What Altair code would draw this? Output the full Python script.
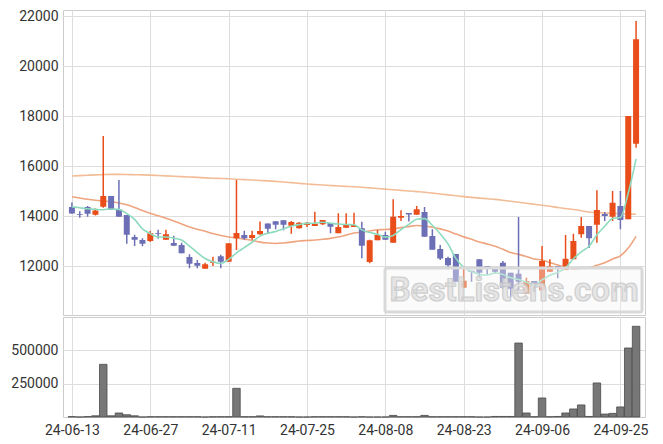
import altair as alt
import pandas as pd

dates = [
    "24-06-13", "24-06-14", "24-06-17", "24-06-18", "24-06-19", "24-06-20", "24-06-21", "24-06-24", "24-06-25", "24-06-26",
    "24-06-27", "24-06-28", "24-07-01", "24-07-02", "24-07-03", "24-07-04", "24-07-05", "24-07-08", "24-07-09", "24-07-10",
    "24-07-11", "24-07-12", "24-07-15", "24-07-16", "24-07-17", "24-07-18", "24-07-19", "24-07-22", "24-07-23", "24-07-24",
    "24-07-25", "24-07-26", "24-07-29", "24-07-30", "24-07-31", "24-08-01", "24-08-02", "24-08-05", "24-08-06", "24-08-07",
    "24-08-08", "24-08-09", "24-08-12", "24-08-13", "24-08-14", "24-08-16", "24-08-19", "24-08-20", "24-08-21", "24-08-22",
    "24-08-23", "24-08-26", "24-08-27", "24-08-28", "24-08-29", "24-08-30", "24-09-02", "24-09-03", "24-09-04", "24-09-05",
    "24-09-06", "24-09-09", "24-09-10", "24-09-11", "24-09-12", "24-09-13", "24-09-19", "24-09-20", "24-09-23", "24-09-24",
    "24-09-25", "24-09-26", "24-09-27",
]

opens = [
    14360, 14080, 14360, 14050, 14370, 14800, 14260, 14040, 13160, 13040,
    13000, 13320, 13050, 12920, 12840, 12360, 12120, 11890, 12130, 12390,
    12170, 13110, 13240, 13120, 13270, 13700, 13790, 13830, 13610, 13510,
    13640, 13600, 13670, 13720, 13310, 13530, 13560, 13510, 12160, 13030,
    13240, 12930, 13930, 14120, 14050, 14160, 13200, 12680, 12320, 12480,
    11130, 11810, 12270, 12000, 11900, 12130, 11730, 11690, 10890, 11400,
    11030, 11770, 12000, 11840, 12270, 13270, 13600, 13650, 14080, 13970,
    14400, 13870, 16890,
]
highs = [
    14540, 14190, 14400, 14300, 17200, 14800, 15440, 14040, 13250, 13110,
    13400, 13450, 13450, 13210, 12930, 12470, 12240, 12130, 12370, 12450,
    12910, 15440, 13410, 13410, 13780, 13700, 13790, 13830, 13800, 13760,
    13760, 14170, 13840, 13720, 14110, 14110, 14130, 13770, 13050, 13440,
    13370, 14670, 14230, 14120, 14400, 14360, 13470, 12840, 12370, 12480,
    12000, 11810, 12270, 12000, 11900, 12200, 11730, 13960, 11530, 11400,
    12800, 12270, 12000, 13240, 13290, 13960, 13600, 15030, 14160, 15000,
    15000, 18000, 21800,
]
lows = [
    14090, 13930, 13970, 14020, 14330, 14250, 13970, 12890, 12800, 12790,
    12960, 13090, 13050, 12810, 12510, 11910, 11910, 11890, 12000, 11910,
    12170, 12640, 13050, 13050, 13250, 13310, 13470, 13430, 13290, 13500,
    13560, 13600, 13640, 13310, 13310, 13530, 13560, 12310, 12110, 13030,
    13050, 12930, 13800, 13780, 14050, 13170, 12650, 12240, 11870, 11370,
    11130, 11370, 11490, 11640, 11700, 11070, 10760, 11030, 10890, 11090,
    11000, 11770, 11510, 11840, 12270, 13130, 12720, 12930, 13800, 13800,
    13470, 13870, 16730,
]
closes = [
    14100, 14050, 14090, 14220, 14800, 14250, 13970, 13250, 13050, 12890,
    13310, 13290, 13270, 12810, 12510, 12090, 12010, 12070, 12170, 12170,
    12910, 13320, 13110, 13240, 13400, 13490, 13650, 13650, 13760, 13730,
    13730, 13690, 13840, 13570, 13560, 13640, 13640, 12810, 13030, 13240,
    13050, 13970, 14000, 14060, 14270, 13170, 12650, 12300, 12030, 11370,
    11410, 11760, 11730, 11920, 11770, 11130, 11090, 11370, 11390, 11190,
    12200, 12000, 11950, 12290, 13000, 13600, 13110, 14240, 14000, 14530,
    13840, 18000, 21070,
]
volumes = [
    3000, 0, 3000, 9000, 393000, 9000, 30000, 17000, 9000, 0,
    2000, 2000, 2000, 2000, 2000, 2000, 2000, 0, 2000, 2000,
    2000, 214000, 2000, 2000, 8000, 2000, 2000, 2000, 2000, 0,
    0, 2000, 2000, 2000, 2000, 2000, 0, 2000, 0, 0,
    0, 12000, 2000, 2000, 2000, 12000, 2000, 2000, 2000, 2000,
    2000, 2000, 0, 0, 4000, 4000, 4000, 552000, 30000, 2000,
    142000, 2000, 4000, 30000, 60000, 90000, 4000, 254000, 22000, 27000,
    75000, 515000, 677000,
]
ma5 = [
    14370, 14330, 14290, 14270, 14252, 14282, 14266, 14098, 13864, 13482,
    13294, 13158, 13162, 13114, 13038, 12794, 12538, 12298, 12170, 12102,
    12266, 12528, 12736, 12950, 13196, 13312, 13378, 13486, 13590, 13656,
    13704, 13712, 13750, 13712, 13678, 13660, 13650, 13444, 13336, 13272,
    13154, 13220, 13458, 13664, 13870, 13894, 13630, 13290, 12884, 12304,
    11952, 11774, 11660, 11638, 11718, 11662, 11528, 11456, 11350, 11234,
    11448, 11630, 11746, 11926, 12288, 12568, 12790, 13248, 13590, 13896,
    13944, 14922, 16288,
]
ma20 = [
    14770, 14720, 14670, 14630, 14600, 14570, 14520, 14450, 14340, 14220,
    14110, 14010, 13910, 13800, 13680, 13560, 13470, 13390, 13300, 13219,
    13159, 13123, 13074, 13025, 12955, 12917, 12901, 12921, 12956, 12998,
    13019, 13039, 13068, 13106, 13158, 13236, 13317, 13354, 13397, 13451,
    13458, 13490, 13535, 13576, 13619, 13603, 13553, 13486, 13399, 13281,
    13165, 13069, 12963, 12881, 12791, 12666, 12538, 12466, 12384, 12282,
    12239, 12141, 12038, 11950, 11886, 11908, 11931, 12028, 12126, 12284,
    12406, 12718, 13185,
]
ma120 = [
    15600, 15615, 15630, 15645, 15655, 15665, 15665, 15660, 15650, 15645,
    15635, 15620, 15605, 15590, 15575, 15560, 15545, 15525, 15510, 15500,
    15490, 15470, 15455, 15440, 15420, 15405, 15385, 15360, 15335, 15305,
    15280, 15260, 15240, 15220, 15200, 15185, 15170, 15150, 15125, 15100,
    15075, 15050, 15025, 15000, 14975, 14950, 14915, 14880, 14845, 14810,
    14775, 14745, 14715, 14690, 14665, 14630, 14590, 14550, 14510, 14470,
    14430, 14390, 14340, 14300, 14260, 14210, 14160, 14140, 14120, 14105,
    14095, 14085, 14070,
]

price_ticks = [12000, 14000, 16000, 18000, 20000, 22000]
volume_ticks = [250000, 500000]

n = len(dates)
df = pd.DataFrame({
    "idx": list(range(n)),
    "date": dates,
    "open": opens,
    "high": highs,
    "low": lows,
    "close": closes,
    "volume": volumes,
    "ma5": ma5,
    "ma20": ma20,
    "ma120": ma120,
})
df["dir"] = ["up" if c >= o else "down" for o, c in zip(opens, closes)]

tick_idx = list(range(0, n, 10))
label_arr = "[" + ",".join("'" + dates[i] + "'" for i in tick_idx) + "]"

UP = "#e84d1a"
DOWN = "#6c6fb6"
FONT = "Roboto"

xscale = alt.Scale(domain=[-0.5, n - 0.5], nice=False, zero=False)
x_price = alt.X("idx:Q", scale=xscale,
                axis=alt.Axis(values=tick_idx, labels=False, ticks=False, domain=False,
                              title=None, grid=True))
x_vol = alt.X("idx:Q", scale=xscale,
              axis=alt.Axis(values=tick_idx, labelExpr=label_arr + "[round(datum.value/10)]",
                            ticks=False, domain=False, title=None, grid=True,
                            labelPadding=6, labelFlush=False))

color_enc = alt.Color("dir:N", scale=alt.Scale(domain=["up", "down"], range=[UP, DOWN]), legend=None)

pscale = alt.Scale(domain=[10040, 22240], nice=False, zero=False)
yaxis_p = alt.Axis(values=price_ticks, title=None, format="d", ticks=False, domain=False,
                   labelPadding=5, minExtent=49, maxExtent=49)

base = alt.Chart(df)

wick = base.mark_rule(strokeWidth=1.5).encode(
    x=x_price,
    y=alt.Y("low:Q", scale=pscale, axis=yaxis_p),
    y2="high:Q",
    color=color_enc,
)
body = base.mark_bar(size=6).encode(
    x=x_price,
    y=alt.Y("open:Q", scale=pscale),
    y2="close:Q",
    color=color_enc,
)
line120 = base.mark_line(color="#f2bd96", strokeWidth=1.6, interpolate="monotone").encode(
    x=x_price, y=alt.Y("ma120:Q", scale=pscale))
line20 = base.mark_line(color="#eea47f", strokeWidth=1.6, interpolate="monotone").encode(
    x=x_price, y=alt.Y("ma20:Q", scale=pscale))
line5 = base.mark_line(color="#8ddbbd", strokeWidth=1.6, interpolate="monotone").encode(
    x=x_price, y=alt.Y("ma5:Q", scale=pscale))

wm = pd.DataFrame({"t": ["BestListens.com"]})
wm_box = alt.Chart(wm).mark_rect(fill="#f4f4f4", fillOpacity=0.4, stroke="#d9d9d9",
                                 strokeWidth=3, cornerRadius=2).encode(
    x=alt.value(322), x2=alt.value(579), y=alt.value(258), y2=alt.value(302))
wm_text = alt.Chart(wm).mark_text(font="Roboto", fontSize=33, fontWeight="bold",
                                  fill="#e2e2e2", stroke="#c8c8c8", strokeWidth=1.2,
                                  opacity=0.85, align="center", baseline="middle").encode(
    x=alt.value(451), y=alt.value(281), text="t:N")

price = alt.layer(line120, line20, wick, body, line5, wm_box, wm_text).properties(
    width=582, height=305)

vscale = alt.Scale(domain=[0, 746300], nice=False)
vol = base.mark_bar(size=7.5, fill="#777777", stroke="#4a4a4a", strokeWidth=0.8).encode(
    x=x_vol,
    y=alt.Y("volume:Q", scale=vscale,
            axis=alt.Axis(values=volume_ticks, title=None, format="d", ticks=False, domain=False,
                          labelPadding=5, minExtent=49, maxExtent=49)),
).properties(width=582, height=100)

chart = alt.vconcat(price, vol, spacing=0).properties(
    padding={"left": 2, "top": 0, "right": 0, "bottom": 0}
).configure_axis(
    gridColor="#dddddd", gridWidth=1, labelColor="#333333", labelFont=FONT, labelFontSize=14
).configure_view(stroke="#cccccc", strokeWidth=1)

chart.save("out.html", embed_options={"renderer": "svg", "actions": False})
